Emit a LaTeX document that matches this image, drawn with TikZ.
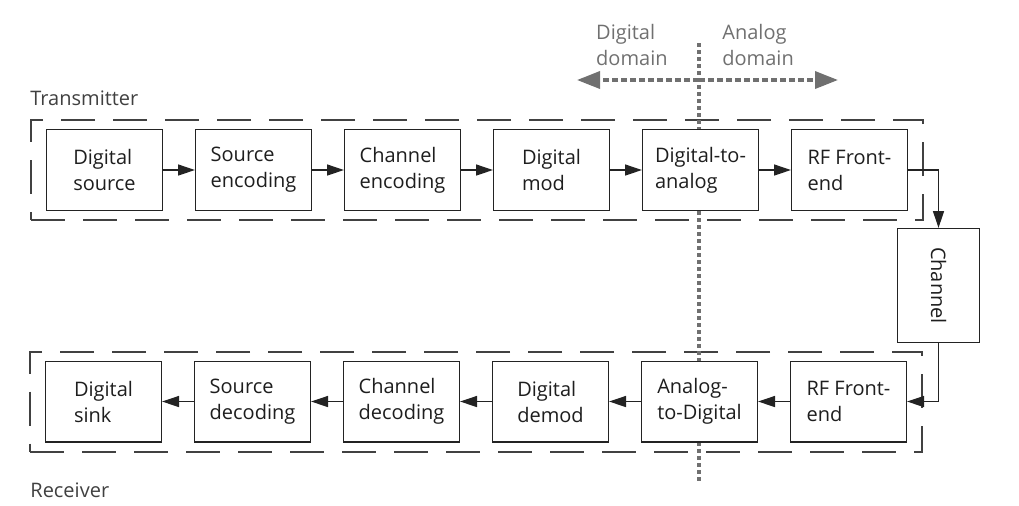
\documentclass[tikz,border=0pt]{standalone}
\usepackage{graphicx}
\usepackage{fontspec}
\setmainfont{Open Sans}
\usepackage{tikz}
\usetikzlibrary{positioning,arrows.meta,fit,backgrounds}
\usepackage{xcolor}
\definecolor{LineGray}{RGB}{35,35,35}
\definecolor{DashGray}{RGB}{65,65,65}
\definecolor{DomGray}{RGB}{112,112,112}
\definecolor{TextGray}{RGB}{30,30,30}

\begin{document}
\begin{tikzpicture}[x=0.5pt, y=-0.5pt,
    block/.style={rectangle, draw=LineGray, fill=white, line width=0.65pt,
                  minimum width=57.85pt, minimum height=40.35pt, inner sep=0pt,
                  align=left, text=TextGray, font=\fontsize{10}{13}\selectfont},
    stage/.style={rectangle, draw=DashGray, line width=1pt,
                  dash pattern=on 17pt off 9pt, inner xsep=7.5pt, inner ysep=4.5pt},
    arr/.style={-{Triangle[length=8.5pt, width=5.5pt]}, draw=LineGray, line width=0.65pt},
    divider/.style={draw=DomGray, line width=1.8pt, dash pattern=on 2pt off 1.5pt},
    domarr/.style={divider, dash pattern=on 3pt off 1.5pt,
                   -{Triangle[length=11.5pt, width=8.5pt, fill=DomGray]}},
    caption/.style={align=left, inner sep=1pt, text=TextGray!85,
                    font=\fontsize{10}{13}\selectfont},
    domlabel/.style={caption, text=DomGray}
]
    \useasboundingbox (0,0) rectangle (1019,505);

    % transmitter chain
    \node[block] (tx1) at (104.5,170) {Digital\\source};
    \node[block, right=16pt of tx1] (tx2) {Source\\encoding};
    \node[block, right=16pt of tx2] (tx3) {Channel\\encoding};
    \node[block, right=16pt of tx3] (tx4) {Digital\\mod};
    \node[block, right=16pt of tx4] (tx5) {Digital-to-\\analog};
    \node[block, right=16pt of tx5] (tx6) {RF Front-\\end};

    \node[block, minimum width=40.85pt, minimum height=56.85pt] (chan) at (938.5,285.5)
        {\rotatebox{-90}{Channel}};

    % receiver chain
    \node[block] (rx1) at (848.5,401.5) {RF Front-\\end};
    \node[block, left=16pt of rx1] (rx2) {Analog-\\to-Digital};
    \node[block, left=16pt of rx2] (rx3) {Digital\\demod};
    \node[block, left=16pt of rx3] (rx4) {Channel\\decoding};
    \node[block, left=16pt of rx4] (rx5) {Source\\decoding};
    \node[block, left=16pt of rx5] (rx6) {Digital\\sink};

    \coordinate (divtop) at (699,43);
    \coordinate (divbot) at (699,482);
    \coordinate (divmid) at (699,80);
    \coordinate (domleft) at (577,80);
    \coordinate (domright) at (838,80);

    \begin{scope}[on background layer]
        \node[stage, fit=(tx1)(tx6)] (txstage) {};
        \node[stage, fit=(rx6)(rx1)] (rxstage) {};
        \draw[divider] (divtop) -- (divbot);
        \draw[domarr] (divmid) -- (domleft);
        \draw[domarr] (divmid) -- (domright);
    \end{scope}

    \draw[arr] (tx1) -- (tx2);
    \draw[arr] (tx2) -- (tx3);
    \draw[arr] (tx3) -- (tx4);
    \draw[arr] (tx4) -- (tx5);
    \draw[arr] (tx5) -- (tx6);
    \draw[arr] (tx6.east) -| (chan.north);
    \draw[arr] (chan.south) |- (rx1.east);
    \draw[arr] (rx1) -- (rx2);
    \draw[arr] (rx2) -- (rx3);
    \draw[arr] (rx3) -- (rx4);
    \draw[arr] (rx4) -- (rx5);
    \draw[arr] (rx5) -- (rx6);

    \node[domlabel, anchor=east] (diglabel) at (670,45) {Digital\\domain};
    \node[domlabel, anchor=west] (analabel) at (720,45) {Analog\\domain};
    \node[caption, anchor=west] (txlabel) at (28,98) {Transmitter};
    \node[caption, anchor=west] (rxlabel) at (28,490) {Receiver};
\end{tikzpicture}
\end{document}
